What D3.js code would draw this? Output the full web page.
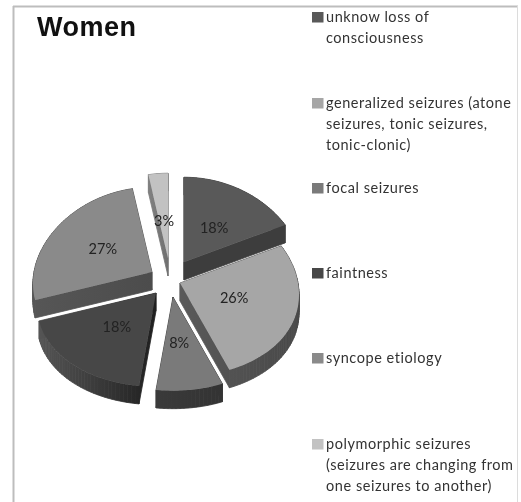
<!DOCTYPE html>
<html><head><meta charset="utf-8">
<script src="https://cdn.jsdelivr.net/npm/d3@7"></script>
<style>html,body{margin:0;padding:0;background:#fff}svg{display:block}</style>
</head><body><svg id="c" width="521" height="502"></svg>
<script>
const categories = ["unknow loss of consciousness","generalized seizures (atone seizures, tonic seizures, tonic-clonic)","focal seizures","faintness","syncope etiology","polymorphic seizures (seizures are changing from one seizures to another)"];
const values = [18,26,8,18,27,3];
const title = "Women";
const legendLines = [["unknow loss of","consciousness"],["generalized seizures (atone","seizures, tonic seizures,","tonic-clonic)"],["focal seizures"],["faintness"],["syncope etiology"],["polymorphic seizures","(seizures are changing from","one seizures to another)"]];
const topColors = ["#595959","#a6a6a6","#7a7a7a","#474747","#8a8a8a","#c2c2c2"];
const sideLight = ["#3d3d3d","#5a5a5a","#3a3a3a","#555555","#565656","#808080"];
const sideDark  = ["#3d3d3d","#484848","#333333","#1f1f1f","#4c4c4c","#707070"];
const apexX = [184,180,173,156,152,168];
const apexY = [262,283,297,293,272,258];
const labelDx = [-4,-15,-4,11,8,2];
const labelDy = [9.5,-4.6,-10,-9,3.5,14];
const legendY = [17,103,188,273,358,444];
const svg = d3.select("#c");
const FF = "Lato,'Open Sans',sans-serif";
const frame = [[13,518,6.5,6.5,"#bdbdbd",2],[13.5,13.5,6,502,"#bdbdbd",2],[517.5,517.5,6,502,"#dcdcdc",1]];
svg.selectAll("line.frame").data(frame).join("line").attr("class","frame")
  .attr("x1",d=>d[0]).attr("x2",d=>d[1]).attr("y1",d=>d[2]).attr("y2",d=>d[3])
  .attr("stroke",d=>d[4]).attr("stroke-width",d=>d[5]);
const root = svg.append("g").style("filter","blur(0.45px)");
const pie = d3.pie().sort(null)(values);
const thick = 18;
const proj = a => { const w=Math.cos(a), u=Math.sin(a);
  return [u*118/(1+0.13*w), -w*89/(1+0.05*w)]; };
const defs = svg.append("defs");
pie.forEach((p,i)=>{
  const n=Math.max(4,Math.ceil((p.endAngle-p.startAngle)/0.03));
  const pts=[[apexX[i],apexY[i]]];
  d3.range(n+1).forEach(k=>{const a=p.startAngle+(p.endAngle-p.startAngle)*k/n;const q=proj(a);pts.push([apexX[i]+q[0],apexY[i]+q[1]]);});
  const ext=d3.extent(pts,d=>d[0]);
  const g = defs.append("linearGradient").attr("id","side"+i).attr("gradientUnits","userSpaceOnUse")
    .attr("x1",ext[0]).attr("x2",ext[1]).attr("y1",0).attr("y2",0);
  g.append("stop").attr("offset","0%").attr("stop-color",sideLight[i]);
  g.append("stop").attr("offset","100%").attr("stop-color",sideDark[i]);
  const closed=pts.concat([pts[0]]);
  const quads=d3.pairs(closed).map(([A,B])=>[A,B,[B[0],B[1]+thick],[A[0],A[1]+thick]]);
  root.append("g").selectAll("path").data(quads).join("path")
    .attr("d",d=>d3.line()(d)+"Z").attr("fill",`url(#side${i})`).attr("stroke",`url(#side${i})`).attr("stroke-width",0.8);
  root.append("path").attr("d",d3.line()(pts)+"Z").attr("fill",topColors[i]);
});
const pct = d3.sum(values);
pie.forEach((p,i)=>{
  const q=proj((p.startAngle+p.endAngle)/2);
  root.append("text").attr("x",apexX[i]+q[0]*0.6+labelDx[i]).attr("y",apexY[i]+q[1]*0.6+labelDy[i]+5)
    .attr("text-anchor","middle").attr("font-family",FF).attr("font-size",14.5).attr("fill","#222")
    .text(d3.format(".0f")(values[i]/pct*100)+"%");
});
root.append("text").attr("x",37).attr("y",36).attr("font-family","'Liberation Sans',sans-serif").attr("font-weight","bold").attr("font-size",27).attr("letter-spacing",0.5).attr("fill","#111").text(title);
values.forEach((v,i)=>{
  const y=legendY[i];
  root.append("rect").attr("x",312).attr("y",y-5).attr("width",11.5).attr("height",10.5).attr("fill",topColors[i]);
  legendLines[i].forEach((t,k)=>{
    root.append("text").attr("x",326).attr("y",y+4.5+k*21.3).attr("font-family",FF).attr("font-size",14.5).attr("letter-spacing",0.55).attr("fill","#333").text(t);
  });
});
</script></body></html>
